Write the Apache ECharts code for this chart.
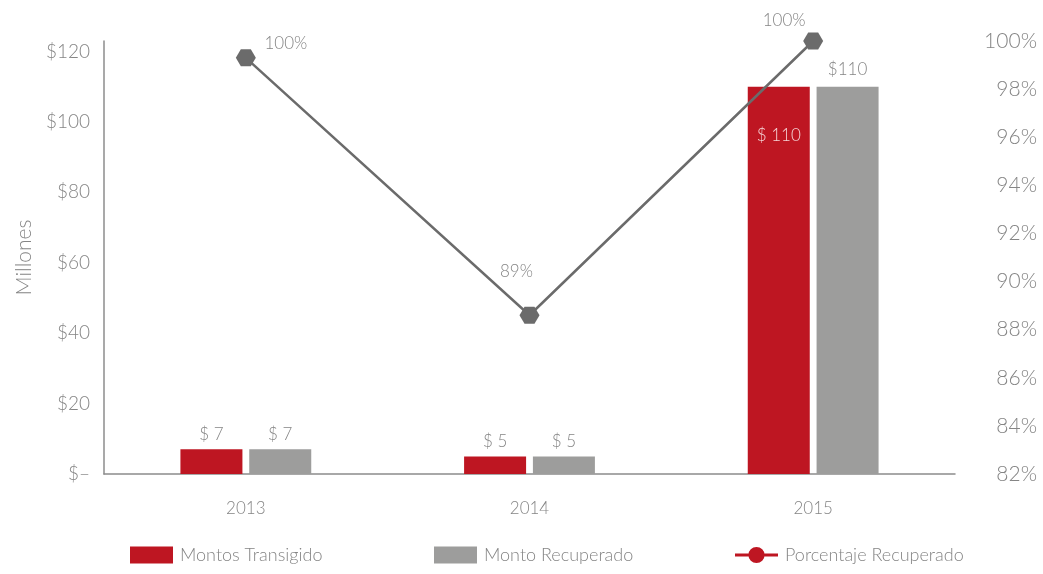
<!DOCTYPE html>
<html>
<head>
<meta charset="utf-8">
<script src="https://cdn.jsdelivr.net/npm/echarts@6/dist/echarts.min.js"></script>
<style>
  html, body { margin: 0; padding: 0; background: #fff; }
  #chart { width: 1043px; height: 574px; }
</style>
</head>
<body>
<div id="chart"></div>
<script>
// data
const years = ['2013', '2014', '2015']
const montosTransigido = [7, 5, 110]
const montoRecuperado = [7, 5, 110]
const porcentajeRecuperado = [99.3, 88.6, 100]

const labelsTransigido = ['$ 7', '$ 5', '$ 110']
const labelsRecuperado = ['$ 7', '$ 5', '$110']
const labelsPorcentaje = ['100%', '89%', '100%']

const RED = '#be1622'
const GRAY = '#9d9d9c'
const LINE = '#6b6b6b'
const TXT = '#858585'
const FONT = 'Lato'

const hexagon = 'path://M0,5 L3,0 L9,0 L12,5 L9,10 L3,10 Z'
const lineIcon = 'path://M0,7 L45,7 L45,10 L0,10 Z M22.5,0 A8.5,8.5 0 1,1 22.5,17 A8.5,8.5 0 1,1 22.5,0 Z'

// label offsets for the line points (relative to the marker)
const pctOffsets = [[40, -14], [-13, -44], [-29, -20]]

const chart = echarts.init(document.getElementById('chart'))

const legendBase = {
  bottom: 10,
  padding: 0,
  itemWidth: 43,
  itemHeight: 17,
  itemGap: 0,
  textStyle: { color: TXT, fontSize: 18, fontFamily: FONT, fontWeight: 300, padding: [0, 0, 0, 2] }
}

chart.setOption({
  animation: false,
  textStyle: { fontFamily: FONT },
  grid: { left: 104, right: 88, top: 41, bottom: 100 },
  legend: [
    Object.assign({}, legendBase, { left: 130, data: [{ name: 'Montos Transigido', icon: 'rect' }] }),
    Object.assign({}, legendBase, { left: 434, data: [{ name: 'Monto Recuperado', icon: 'rect' }] }),
    Object.assign({}, legendBase, {
      left: 735,
      data: [{ name: 'Porcentaje Recuperado', icon: lineIcon, itemStyle: { color: RED } }]
    })
  ],
  xAxis: {
    type: 'category',
    data: years,
    axisLine: { lineStyle: { color: '#8c8c8c', width: 1.5 } },
    axisTick: { show: false },
    axisLabel: { color: TXT, fontSize: 17, fontFamily: FONT, fontWeight: 300, margin: 26 }
  },
  yAxis: [
    {
      type: 'value',
      min: 0,
      max: 123,
      interval: 20,
      name: 'Millones',
      nameLocation: 'middle',
      nameRotate: 90,
      nameGap: 69,
      nameTextStyle: { color: TXT, fontSize: 21, fontFamily: FONT, fontWeight: 300 },
      axisLine: { show: true, lineStyle: { color: '#8c8c8c', width: 1.5 } },
      axisTick: { show: false },
      splitLine: { show: false },
      axisLabel: {
        color: TXT, fontSize: 19, fontFamily: FONT, fontWeight: 300, margin: 14,
        formatter: v => (v % 20 !== 0 ? '' : v === 0 ? '$–' : '$' + v)
      }
    },
    {
      type: 'value',
      min: 82,
      max: 100,
      interval: 2,
      position: 'right',
      axisLine: { show: false },
      axisTick: { show: false },
      splitLine: { show: false },
      axisLabel: {
        color: TXT, fontSize: 21, fontFamily: FONT, fontWeight: 300, margin: 82, align: 'right',
        formatter: v => v + '%'
      }
    }
  ],
  series: [
    {
      name: 'Montos Transigido',
      type: 'bar',
      barWidth: 62,
      barGap: '11%',
      itemStyle: { color: RED },
      data: montosTransigido.map((v, i) => ({
        value: v,
        label: i === 2
          ? { show: true, position: 'insideTop', distance: 40, color: '#f5d5d7', formatter: labelsTransigido[i] }
          : { show: true, position: 'top', distance: 6, color: TXT, formatter: labelsTransigido[i] }
      })),
      label: { fontSize: 17, fontFamily: FONT, fontWeight: 300 }
    },
    {
      name: 'Monto Recuperado',
      type: 'bar',
      barWidth: 62,
      itemStyle: { color: GRAY },
      data: montoRecuperado.map((v, i) => ({
        value: v,
        label: { show: true, position: 'top', distance: i === 2 ? 9 : 6, color: TXT, formatter: labelsRecuperado[i] }
      })),
      label: { fontSize: 17, fontFamily: FONT, fontWeight: 300 }
    },
    {
      name: 'Porcentaje Recuperado',
      type: 'line',
      yAxisIndex: 1,
      symbol: hexagon,
      symbolSize: [20, 17],
      itemStyle: { color: LINE },
      lineStyle: { color: LINE, width: 2.5 },
      z: 5,
      data: porcentajeRecuperado.map((v, i) => ({
        value: v,
        label: {
          show: true, position: 'inside', offset: pctOffsets[i],
          color: TXT, fontSize: 17, fontFamily: FONT, fontWeight: 300,
          formatter: labelsPorcentaje[i]
        }
      }))
    }
  ]
})

window.addEventListener('resize', () => chart.resize())
</script>
</body>
</html>
